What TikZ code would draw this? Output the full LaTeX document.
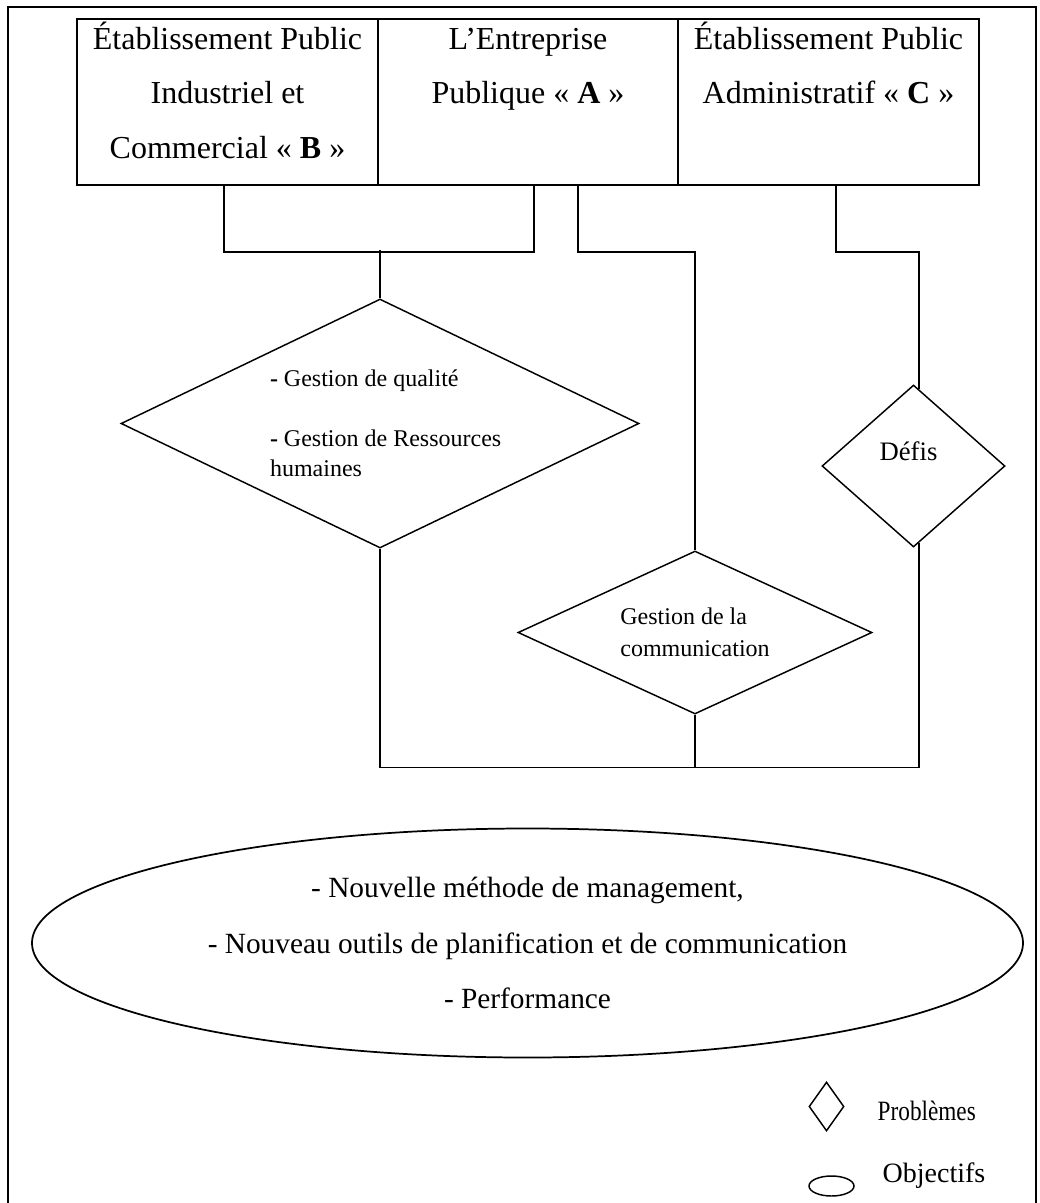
\documentclass[tikz,border=0pt]{standalone}
\usepackage{fontspec}
\setmainfont{Liberation Serif}
\usetikzlibrary{shapes.geometric}
\begin{document}
\begin{tikzpicture}[x=0.75pt,y=-0.75pt,
  frame/.style={draw,line width=1.4pt},
  entity/.style={draw,line width=1.4pt,rectangle,inner sep=0pt},
  probleme/.style={draw,line width=1.1pt,diamond,inner sep=0pt},
  objectif/.style={draw,line width=1.3pt,ellipse,inner sep=0pt},
  link/.style={draw,line width=1.1pt},
  boxtext/.style={font=\fontsize{24pt}{41pt}\selectfont},
  smalltext/.style={font=\fontsize{18pt}{22.5pt}\selectfont}
]
\useasboundingbox (0,0) rectangle (1039,1203);
\draw[frame] (8,7) rectangle (1036,1240);

% top boxes
\node[entity,boxtext] (B) at (227.5,102) {\parbox[c][124.5pt][t]{225.75pt}{\centering\rule{0pt}{22.5pt}Établissement Public\\Industriel et\\Commercial « \textbf{B} »}};
\node[entity,boxtext] (A) at (528,102) {\parbox[c][124.5pt][t]{225.75pt}{\centering\rule{0pt}{22.5pt}L’Entreprise\\Publique « \textbf{A} »}};
\node[entity,boxtext] (C) at (828.5,102) {\parbox[c][124.5pt][t]{225.75pt}{\centering\rule{0pt}{22.5pt}Établissement Public\\Administratif « \textbf{C} »}};

% problems
\node[probleme,smalltext,minimum width=388.5pt,minimum height=186.75pt,aspect=2.08] (qual) at (380,423.5)
  {\hspace*{15pt}\parbox{180pt}{\raggedright\textbf{-} Gestion de qualité\\[22.5pt]\textbf{-} Gestion de Ressources\\humaines}};
\node[probleme,minimum width=265.5pt,minimum height=122.25pt,aspect=2.17,align=left,font=\fontsize{18pt}{24pt}\selectfont] (comm) at (695,632.5)
  {Gestion de la\\communication};
\node[probleme,minimum width=137.25pt,minimum height=121.5pt,aspect=1.13,font=\fontsize{20pt}{24pt}\selectfont,text height=15pt,text depth=24pt] (defis) at (913.5,466) {Défis\hspace*{7.5pt}};

% objectives
\node[objectif,minimum width=743.25pt,minimum height=171.75pt,align=center,font=\fontsize{22pt}{41.6pt}\selectfont] (obj) at (527.5,943)
  {- Nouvelle méthode de management,\\- Nouveau outils de planification et de communication\\- Performance};

% connectors
\draw[link] ([shift={(-3.5,0)}]B.south) -- ++(0,66) -| ([shift={(6,0)}]A.south);
\draw[link] (qual.north) -- ++(0,-48);
\draw[link] ([shift={(50,0)}]A.south) -- ++(0,66) -| (comm.north);
\draw[link] ([shift={(7.5,0)}]C.south) -- ++(0,66) -| ([shift={(5.5,4.9)}]defis.north);
\draw[link] (qual.south) -- ++(0,219) -| ([shift={(5.5,-4.9)}]defis.south);
\draw[link] (comm.south) -- ++(0,53);

% legend
\node[probleme,minimum width=26.25pt,minimum height=36.75pt] (ldia) at (826.5,1106.5) {};
\node[anchor=base west,font=\fontsize{21pt}{24pt}\selectfont] (lprob) at (873,1120) {\scalebox{0.83}[1]{Problèmes}};
\node[objectif,line width=1.1pt,minimum width=33.75pt,minimum height=15pt] (lell) at (831.5,1186) {};
\node[anchor=base west,font=\fontsize{21pt}{24pt}\selectfont] (lobj) at (878,1182) {Objectifs};
\end{tikzpicture}
\end{document}
